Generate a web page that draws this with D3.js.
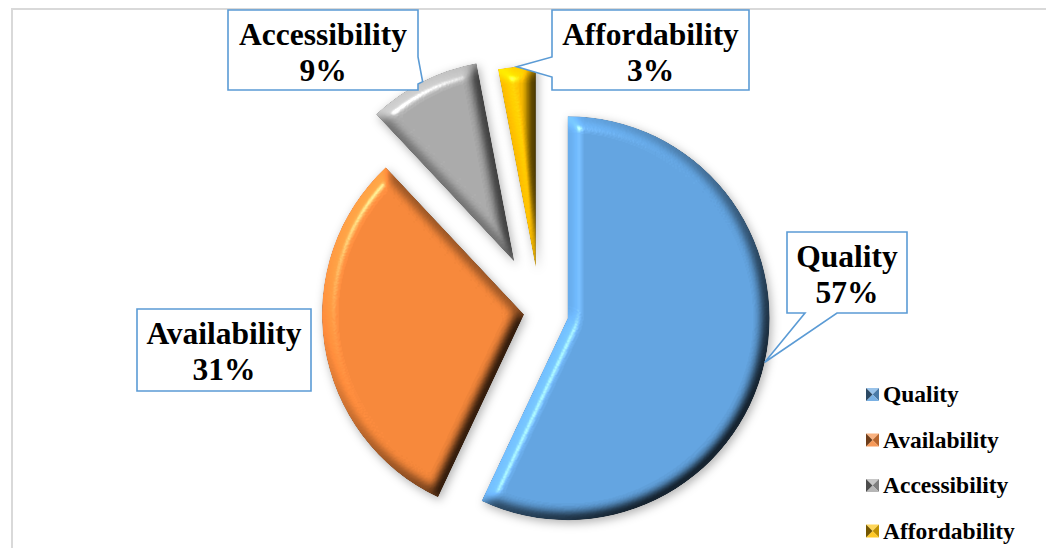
<!DOCTYPE html>
<html>
<head>
<meta charset="utf-8">
<script src="https://cdn.jsdelivr.net/npm/d3@7"></script>
<style>
  html, body { margin: 0; padding: 0; background: #ffffff; }
  svg { display: block; }
</style>
</head>
<body>
<svg id="chart" width="1046" height="548"></svg>
<script>
// ---- data ----
const categories = ["Quality", "Availability", "Accessibility", "Affordability"];
const shares = [57, 31, 9, 3];

// ---- styling / layout ----
const sliceColors = ["#62A3DF", "#F5873A", "#A9A9A9", "#FFC000"];
const explodeFraction = [0.14, 0.08, 0.28, 0.22];   // how far each slice is pulled out, as a share of the radius
const pieCenter = { x: 540, y: 312 };
const radius = 202;

// callout boxes for the data labels; tail = the side the pointer leaves from and its span along that side
const calloutBoxes = [
  { x: 787, y: 232, w: 120, h: 81, tail: { side: "bottom", a: 18, b: 50 } },
  { x: 137, y: 309, w: 174, h: 82, tail: null },
  { x: 228, y: 10,  w: 190, h: 80, tail: { side: "right", a: 47, b: 74 } },
  { x: 552, y: 10,  w: 197, h: 80, tail: { side: "left",  a: 47, b: 67 } }
];

const legendLayout = { x: 866, y: 402, step: 45.5, marker: 13, gap: 4 };

const svg = d3.select("#chart");
const defs = svg.append("defs");

// bevel + soft shadow filter for the slices
function addBevel(id, blur, scale, ambient, shadowBlur, shadowDx, shadowDy, shadowOpacity) {
  const elevation = 50;
  const f = defs.append("filter").attr("id", id)
    .attr("filterUnits", "userSpaceOnUse")
    .attr("x", -400).attr("y", -400).attr("width", 800).attr("height", 800)
    .attr("color-interpolation-filters", "sRGB");
  f.append("feGaussianBlur").attr("in", "SourceAlpha").attr("stdDeviation", blur).attr("result", "height");
  const diff = f.append("feDiffuseLighting").attr("in", "height")
    .attr("surfaceScale", scale).attr("diffuseConstant", 1).attr("lighting-color", "#ffffff").attr("result", "diff");
  diff.append("feDistantLight").attr("azimuth", 225).attr("elevation", elevation);
  // colour * (ambient + k * light), with a flat face keeping its own colour
  const k = (1 - ambient) / Math.sin(elevation * Math.PI / 180);
  f.append("feComposite").attr("in", "SourceGraphic").attr("in2", "diff").attr("operator", "arithmetic")
    .attr("k1", k).attr("k2", ambient).attr("k3", 0).attr("k4", 0).attr("result", "lit");
  const spec = f.append("feSpecularLighting").attr("in", "height")
    .attr("surfaceScale", scale).attr("specularConstant", 0.6).attr("specularExponent", 60)
    .attr("lighting-color", "#ffffff").attr("result", "spec");
  spec.append("feDistantLight").attr("azimuth", 225).attr("elevation", elevation);
  f.append("feComposite").attr("in", "lit").attr("in2", "spec").attr("operator", "arithmetic")
    .attr("k1", 0).attr("k2", 1).attr("k3", 0.55).attr("k4", 0).attr("result", "shiny");
  f.append("feComposite").attr("in", "shiny").attr("in2", "SourceAlpha").attr("operator", "in").attr("result", "bevel");
  f.append("feGaussianBlur").attr("in", "SourceAlpha").attr("stdDeviation", shadowBlur).attr("result", "sb");
  f.append("feOffset").attr("in", "sb").attr("dx", shadowDx).attr("dy", shadowDy).attr("result", "so");
  f.append("feFlood").attr("flood-color", "#000000").attr("flood-opacity", shadowOpacity).attr("result", "sc");
  f.append("feComposite").attr("in", "sc").attr("in2", "so").attr("operator", "in").attr("result", "shadow");
  const m = f.append("feMerge");
  m.append("feMergeNode").attr("in", "shadow");
  m.append("feMergeNode").attr("in", "bevel");
}
addBevel("sliceBevel", 6.5, 11, 0.22, 5, 2, 3, 0.3);

// chart area border
svg.append("rect")
  .attr("x", 12).attr("y", 9).attr("width", 1200).attr("height", 700)
  .attr("fill", "none").attr("stroke", "#d9d9d9").attr("stroke-width", 2);

// ---- pie ----
const pie = d3.pie().sort(null).value(d => d).startAngle(0).endAngle(2 * Math.PI);
const arcs = pie(shares);
const arcGen = d3.arc().innerRadius(0).outerRadius(radius);

const slices = arcs.map((a, i) => {
  const mid = (a.startAngle + a.endAngle) / 2;
  const off = explodeFraction[i] * radius;
  const apex = { x: pieCenter.x + off * Math.sin(mid), y: pieCenter.y - off * Math.cos(mid) };
  const tip = { x: apex.x + radius * Math.sin(mid), y: apex.y - radius * Math.cos(mid) };
  return { arc: a, i, mid, apex, tip };
});

const pieG = svg.append("g").attr("class", "pie");
pieG.selectAll("g.slice")
  .data(slices)
  .join("g")
  .attr("class", "slice")
  .attr("transform", d => `translate(${d.apex.x},${d.apex.y})`)
  .append("path")
  .attr("d", d => arcGen(d.arc))
  .attr("fill", d => sliceColors[d.i])
  .attr("filter", "url(#sliceBevel)");

// ---- data label callouts ----
function calloutPath(b, tip) {
  const { x, y, w, h } = b;
  const t = b.tail;
  const p = d3.path();
  p.moveTo(x, y);
  p.lineTo(x + w, y);
  if (t && t.side === "right") { p.lineTo(x + w, y + t.a); p.lineTo(tip.x, tip.y); p.lineTo(x + w, y + t.b); }
  p.lineTo(x + w, y + h);
  if (t && t.side === "bottom") { p.lineTo(x + t.b, y + h); p.lineTo(tip.x, tip.y); p.lineTo(x + t.a, y + h); }
  p.lineTo(x, y + h);
  if (t && t.side === "left") { p.lineTo(x, y + t.b); p.lineTo(tip.x, tip.y); p.lineTo(x, y + t.a); }
  p.closePath();
  return p.toString();
}

const labelG = svg.append("g").attr("class", "labels");
const callouts = labelG.selectAll("g.callout")
  .data(slices)
  .join("g")
  .attr("class", "callout");

callouts.append("path")
  .attr("d", d => calloutPath(calloutBoxes[d.i], d.tip))
  .attr("fill", "#ffffff")
  .attr("stroke", "#5B9BD5")
  .attr("stroke-width", 1.6)
  .attr("stroke-linejoin", "miter");

const labelText = callouts.append("text")
  .attr("text-anchor", "middle")
  .style("font-family", "'Liberation Serif', 'Times New Roman', 'DejaVu Serif', serif")
  .attr("font-weight", "bold")
  .attr("font-size", 31.5)
  .attr("fill", "#000000");
labelText.append("tspan")
  .attr("x", d => calloutBoxes[d.i].x + calloutBoxes[d.i].w / 2)
  .attr("y", d => calloutBoxes[d.i].y + 35)
  .text(d => categories[d.i]);
labelText.append("tspan")
  .attr("x", d => calloutBoxes[d.i].x + calloutBoxes[d.i].w / 2)
  .attr("y", d => calloutBoxes[d.i].y + 71)
  .text(d => `${shares[d.i]}%`);

// ---- legend ----
const legendY = d3.scalePoint().domain(categories).range([legendLayout.y, legendLayout.y + legendLayout.step * (categories.length - 1)]);
const legend = svg.append("g").attr("class", "legend");
const rows = legend.selectAll("g.row")
  .data(categories)
  .join("g")
  .attr("class", "row")
  .attr("transform", d => `translate(${legendLayout.x},${legendY(d)})`);

// bevelled marker: four triangles shaded as a small pyramid
const m = legendLayout.marker;
const facets = [
  { pts: [[0, 0], [m, 0], [m / 2, m / 2]], k: 0.35 },    // top
  { pts: [[m, 0], [m, m], [m / 2, m / 2]], k: -0.25 },   // right
  { pts: [[0, m], [m, m], [m / 2, m / 2]], k: 0.15 },    // bottom
  { pts: [[0, 0], [0, m], [m / 2, m / 2]], k: -0.55 }    // left
];
rows.each(function (d, i) {
  const g = d3.select(this);
  const base = d3.color(sliceColors[i]);
  facets.forEach(f => {
    const c = f.k >= 0 ? d3.interpolateRgb(base, "#ffffff")(f.k) : d3.interpolateRgb(base, "#000000")(-f.k);
    g.append("path")
      .attr("d", "M" + f.pts.map(p => [p[0], p[1] - m - 1].join(",")).join("L") + "Z")
      .attr("fill", c);
  });
});
rows.append("text")
  .attr("x", m + legendLayout.gap)
  .attr("y", 0)
  .style("font-family", "'Liberation Serif', 'Times New Roman', 'DejaVu Serif', serif")
  .attr("font-weight", "bold")
  .attr("font-size", 23.5)
  .attr("fill", "#000000")
  .text(d => d);
</script>
</body>
</html>
